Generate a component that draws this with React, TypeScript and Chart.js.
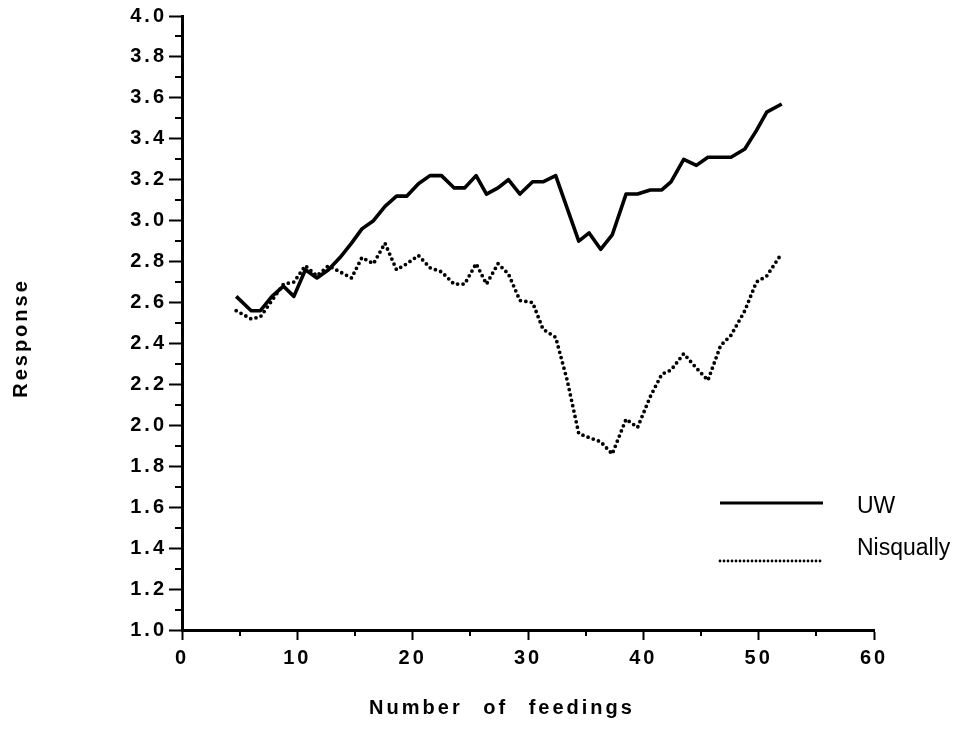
import React, { useEffect, useRef } from 'react';
import { Chart, registerables } from 'chart.js';

Chart.register(...registerables);

// Number of feedings (x position of each plotted point)
const feedings = [
  4.7, 6.0, 6.8, 7.8, 8.8, 9.7, 10.7, 11.7, 12.7, 13.7, 14.7, 15.6,
  16.6, 17.6, 18.6, 19.5, 20.5, 21.5, 22.5, 23.6, 24.5, 25.5, 26.4, 27.4,
  28.3, 29.3, 30.4, 31.3, 32.4, 33.4, 34.4, 35.3, 36.3, 37.3, 38.5, 39.5,
  40.6, 41.6, 42.4, 43.5, 44.6, 45.6, 46.7, 47.6, 48.8, 49.8, 50.7, 52.0,
];

// Response, UW
const uw = [
  2.63, 2.56, 2.56, 2.63, 2.68, 2.63, 2.76, 2.72, 2.76, 2.82, 2.89, 2.96,
  3.0, 3.07, 3.12, 3.12, 3.18, 3.22, 3.22, 3.16, 3.16, 3.22, 3.13, 3.16,
  3.2, 3.13, 3.19, 3.19, 3.22, 3.06, 2.9, 2.94, 2.86, 2.93, 3.13, 3.13,
  3.15, 3.15, 3.19, 3.3, 3.27, 3.31, 3.31, 3.31, 3.35, 3.44, 3.53, 3.57,
];

// Response, Nisqually
const nisqually = [
  2.56, 2.52, 2.53, 2.61, 2.69, 2.7, 2.78, 2.73, 2.78, 2.75, 2.72, 2.82,
  2.79, 2.89, 2.76, 2.79, 2.83, 2.77, 2.75, 2.69, 2.69, 2.79, 2.69, 2.79,
  2.74, 2.61, 2.6, 2.47, 2.43, 2.22, 1.96, 1.94, 1.92, 1.86, 2.03, 1.99,
  2.14, 2.25, 2.27, 2.35, 2.28, 2.22, 2.39, 2.44, 2.56, 2.7, 2.73, 2.84,
];

const seriesNames = ['UW', 'Nisqually'];
const xTicks = [0, 10, 20, 30, 40, 50, 60];
const xMinorTicks = [5, 15, 25, 35, 45, 55];
const yTicks = [1.0, 1.2, 1.4, 1.6, 1.8, 2.0, 2.2, 2.4, 2.6, 2.8, 3.0, 3.2, 3.4, 3.6, 3.8, 4.0];
const yMinorTicks = [1.1, 1.3, 1.5, 1.7, 1.9, 2.1, 2.3, 2.5, 2.7, 2.9, 3.1, 3.3, 3.5, 3.7, 3.9];
const xTitle = 'Number of feedings';
const yTitle = 'Response';

const FONT = '"Liberation Sans", Arial, Helvetica, sans-serif';
const SPACING = '3px';

const decorPlugin = {
  id: 'decor',
  beforeLayout(chart: any) {
    chart.ctx.letterSpacing = SPACING;
  },
  beforeDraw(chart: any) {
    chart.ctx.letterSpacing = SPACING;
  },
  afterDraw(chart: any) {
    const { ctx, chartArea, scales } = chart;
    const xs = scales.x;
    const ys = scales.y;
    ctx.save();
    ctx.strokeStyle = '#000';
    ctx.fillStyle = '#000';
    ctx.lineWidth = 2;
    ctx.setLineDash([]);
    // minor ticks
    yMinorTicks.forEach((v) => {
      const py = Math.round(ys.getPixelForValue(v));
      ctx.beginPath();
      ctx.moveTo(chartArea.left - 7, py);
      ctx.lineTo(chartArea.left, py);
      ctx.stroke();
    });
    xMinorTicks.forEach((v) => {
      const px = Math.round(xs.getPixelForValue(v));
      ctx.beginPath();
      ctx.moveTo(px, chartArea.bottom);
      ctx.lineTo(px, chartArea.bottom + 6);
      ctx.stroke();
    });

    // axis titles
    ctx.letterSpacing = SPACING;
    (ctx as any).wordSpacing = '12px';
    ctx.font = `bold 20px ${FONT}`;
    ctx.textAlign = 'center';
    ctx.textBaseline = 'middle';
    ctx.fillText(xTitle, chartArea.left + 320, chartArea.bottom + 78);
    ctx.save();
    ctx.translate(chartArea.left - 161, chartArea.top + 322);
    ctx.rotate(-Math.PI / 2);
    ctx.fillText(yTitle, 0, 0);
    ctx.restore();
    (ctx as any).wordSpacing = '0px';

    // legend
    ctx.letterSpacing = '0px';
    ctx.font = `23px ${FONT}`;
    ctx.textAlign = 'left';
    ctx.textBaseline = 'alphabetic';
    const lx1 = chartArea.right - 154;
    const lx2 = chartArea.right - 51;
    const tx = chartArea.right - 17;
    const y1 = chartArea.top + 487;
    const y2 = chartArea.top + 545;
    ctx.lineWidth = 3.2;
    ctx.lineCap = 'butt';
    ctx.beginPath();
    ctx.moveTo(lx1, y1);
    ctx.lineTo(lx2, y1);
    ctx.stroke();
    ctx.lineWidth = 2.8;
    ctx.lineCap = 'round';
    ctx.setLineDash([0, 4]);
    ctx.beginPath();
    ctx.moveTo(lx1, y2);
    ctx.lineTo(lx2, y2);
    ctx.stroke();
    ctx.setLineDash([]);
    ctx.fillText(seriesNames[0], tx, y1 + 10);
    ctx.fillText(seriesNames[1], tx, y2 - 6);
    ctx.restore();
  },
};

export default function App() {
  const canvasRef = useRef<HTMLCanvasElement | null>(null);

  useEffect(() => {
    const canvas = canvasRef.current;
    if (!canvas) return;
    const tickFont = { family: FONT, size: 20, weight: 'bold' as const };
    const chart = new Chart(canvas, {
      type: 'line',
      data: {
        datasets: [
          {
            label: seriesNames[0],
            data: feedings.map((x, i) => ({ x, y: uw[i] })),
            borderColor: '#000',
            backgroundColor: '#000',
            borderWidth: 3.6,
            pointRadius: 0,
            tension: 0,
            borderJoinStyle: 'round',
            fill: false,
          },
          {
            label: seriesNames[1],
            data: feedings.map((x, i) => ({ x, y: nisqually[i] })),
            borderColor: '#000',
            backgroundColor: '#000',
            borderWidth: 3.8,
            borderDash: [0, 5.5],
            borderCapStyle: 'round',
            pointRadius: 0,
            tension: 0,
            fill: false,
          },
        ],
      },
      options: {
        responsive: false,
        animation: false,
        devicePixelRatio: 1,
        layout: { padding: { left: 0, right: 86, top: 16, bottom: 0 } },
        plugins: {
          legend: { display: false },
          tooltip: { enabled: false },
          title: { display: false },
        },
        scales: {
          x: {
            type: 'linear',
            min: 0,
            max: 60,
            afterBuildTicks: (s: any) => {
              s.ticks = xTicks.map((v) => ({ value: v }));
            },
            afterFit: (s: any) => {
              s.height = 117;
            },
            ticks: {
              color: '#000',
              font: tickFont,
              padding: 6,
              maxRotation: 0,
              autoSkip: false,
              callback: (v: any) => String(v),
            },
            grid: {
              drawOnChartArea: false,
              drawTicks: true,
              tickLength: 10,
              tickWidth: 2,
              tickColor: '#000',
              color: '#000',
            },
            border: { display: true, color: '#000', width: 3 },
          },
          y: {
            type: 'linear',
            min: 1,
            max: 4,
            afterBuildTicks: (s: any) => {
              s.ticks = yTicks.map((v) => ({ value: v }));
            },
            afterFit: (s: any) => {
              s.width = 182;
            },
            ticks: {
              color: '#000',
              font: tickFont,
              padding: 2,
              autoSkip: false,
              callback: (v: any) => Number(v).toFixed(1),
            },
            grid: {
              drawOnChartArea: false,
              drawTicks: true,
              tickLength: 13,
              tickWidth: 2,
              tickColor: '#000',
              color: '#000',
            },
            border: { display: true, color: '#000', width: 3 },
          },
        },
      } as any,
      plugins: [decorPlugin],
    });
    return () => chart.destroy();
  }, []);

  return (
    <div style={{ position: 'absolute', left: 0, top: 0, width: 960, height: 747, background: '#fff' }}>
      <canvas ref={canvasRef} width={960} height={747} style={{ display: 'block' }} />
    </div>
  );
}
